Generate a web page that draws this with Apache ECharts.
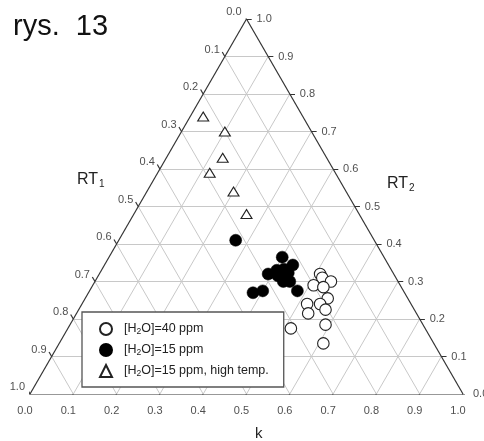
<!DOCTYPE html>
<html>
<head>
<meta charset="utf-8">
<script src="https://cdn.jsdelivr.net/npm/echarts@6/dist/echarts.min.js"></script>
<style>
  html, body { margin: 0; padding: 0; background: #fff; }
  #main { width: 484px; height: 441px; }
</style>
</head>
<body>
<div id="main"></div>
<script>
// ternary data: k (bottom axis) and RT2 (right axis); RT1 = 1 - k - RT2
var openK = [0.51, 0.52, 0.545, 0.51, 0.535, 0.56, 0.52, 0.55, 0.57, 0.535, 0.59, 0.515, 0.61];
var openRT2 = [0.32, 0.31, 0.30, 0.29, 0.285, 0.255, 0.24, 0.24, 0.225, 0.215, 0.185, 0.175, 0.135];

var filledK = [0.27, 0.40, 0.39, 0.405, 0.42, 0.435, 0.415, 0.435, 0.435, 0.45, 0.38, 0.40, 0.48];
var filledRT2 = [0.41, 0.365, 0.32, 0.33, 0.333, 0.344, 0.315, 0.323, 0.30, 0.30, 0.27, 0.275, 0.275];

var triK = [0.03, 0.10, 0.13, 0.12, 0.20, 0.26];
var triRT2 = [0.74, 0.70, 0.63, 0.59, 0.54, 0.48];

var gridSteps = [0.1, 0.2, 0.3, 0.4, 0.5, 0.6, 0.7, 0.8, 0.9];
var tickLabels = ['0.0', '0.1', '0.2', '0.3', '0.4', '0.5', '0.6', '0.7', '0.8', '0.9', '1.0'];

var seriesNames = ['[H2O]=40 ppm', '[H2O]=15 ppm', '[H2O]=15 ppm, high temp.'];

var S = Math.sqrt(3) / 2;
// ternary -> cartesian
function pt(k, rt2) { return [k + rt2 / 2, rt2 * S]; }

function toPoints(ks, rs) {
  return ks.map(function (k, i) { return pt(k, rs[i]); });
}

// grid lines
var gridLines = [];
gridSteps.forEach(function (t) {
  gridLines.push({ coords: [pt(0, t), pt(1 - t, t)] });   // RT2 const
  gridLines.push({ coords: [pt(t, 0), pt(t, 1 - t)] });   // k const
  gridLines.push({ coords: [pt(t, 0), pt(0, t)] });       // RT1 const
});

// frame + ticks
var L = 0.012;
var frame = [
  { coords: [pt(0, 0), pt(1, 0)] },
  { coords: [pt(1, 0), pt(0, 1)] },
  { coords: [pt(0, 1), pt(0, 0)] }
];
var bottomLab = [], leftLab = [], rightLab = [];
tickLabels.forEach(function (lab, i) {
  var v = i / 10;
  var b = pt(v, 0), l = pt(0, 1 - v), r = pt(1 - v, v);
  frame.push({ coords: [b, [b[0] - 0.5 * L, b[1] - S * L]] });
  frame.push({ coords: [l, [l[0] - 0.5 * L, l[1] + S * L]] });
  frame.push({ coords: [r, [r[0] + L, r[1]]] });
  bottomLab.push({ value: b, name: lab });
  leftLab.push({ value: l, name: lab });
  rightLab.push({ value: r, name: lab });
});

function labelSeries(data, pos, align) {
  return {
    type: 'scatter',
    data: data,
    symbolSize: 0,
    silent: true,
    z: 5,
    label: {
      show: true,
      position: pos,
      align: align,
      verticalAlign: 'middle',
      formatter: '{b}',
      fontFamily: 'Liberation Sans',
      fontSize: 11,
      color: '#222'
    }
  };
}

var markerBorder = '#222';

var myChart = echarts.init(document.getElementById('main'));
myChart.setOption({
  animation: false,
  backgroundColor: '#fff',
  grid: { left: 30, top: 19, width: 433, height: 375 },
  xAxis: { type: 'value', min: 0, max: 1, show: false },
  yAxis: { type: 'value', min: 0, max: S, show: false },
  legend: {
    orient: 'vertical',
    left: 82,
    top: 312,
    data: seriesNames,
    itemWidth: 12,
    itemHeight: 12,
    itemGap: 7,
    padding: [10, 15, 9, 17],
    backgroundColor: '#fff',
    borderColor: '#555',
    borderWidth: 1.3,
    borderRadius: 0,
    formatter: function (name) {
      return name.replace('H2O', 'H{sub|2}O');
    },
    textStyle: {
      fontFamily: 'Liberation Sans',
      fontSize: 12.5,
      color: '#222',
      padding: [0, 0, 0, 7],
      rich: {
        sub: { fontSize: 8.5, padding: [5, 0, 0, 0] }
      }
    }
  },
  graphic: [
    {
      type: 'text', left: 13, top: 12,
      style: { text: 'rys.  13', font: '29px "Liberation Sans"', fill: '#111' }
    },
    {
      type: 'text', left: 77, top: 172,
      style: {
        text: '{a|RT}{b|1}',
        rich: {
          a: { fontFamily: 'Liberation Sans', fontSize: 16, fill: '#222' },
          b: { fontFamily: 'Liberation Sans', fontSize: 10, fill: '#222', padding: [9, 0, 0, 1] }
        }
      }
    },
    {
      type: 'text', left: 387, top: 176,
      style: {
        text: '{a|RT}{b|2}',
        rich: {
          a: { fontFamily: 'Liberation Sans', fontSize: 16, fill: '#222' },
          b: { fontFamily: 'Liberation Sans', fontSize: 10, fill: '#222', padding: [9, 0, 0, 1] }
        }
      }
    },
    {
      type: 'text', left: 255, top: 426,
      style: { text: 'k', font: '15px "Liberation Sans"', fill: '#222' }
    }
  ],
  series: [
    {
      type: 'lines',
      coordinateSystem: 'cartesian2d',
      silent: true,
      z: 1,
      lineStyle: { color: '#c8c8c8', width: 1, opacity: 1 },
      data: gridLines
    },
    {
      type: 'lines',
      coordinateSystem: 'cartesian2d',
      silent: true,
      z: 2,
      lineStyle: { color: '#333', width: 1.2, opacity: 1 },
      data: frame
    },
    labelSeries(bottomLab, [-5, 17], 'center'),
    labelSeries(leftLab, [-5, -7], 'right'),
    labelSeries(rightLab, [10, 0], 'left'),
    {
      name: seriesNames[0],
      type: 'scatter',
      z: 3,
      symbol: 'circle',
      symbolSize: 11.5,
      itemStyle: { color: '#fff', borderColor: markerBorder, borderWidth: 1.1, opacity: 1 },
      data: toPoints(openK, openRT2)
    },
    {
      name: seriesNames[1],
      type: 'scatter',
      z: 3,
      symbol: 'circle',
      symbolSize: 12,
      itemStyle: { color: '#000', borderColor: '#000', borderWidth: 0.5, opacity: 1 },
      data: toPoints(filledK, filledRT2)
    },
    {
      name: seriesNames[2],
      type: 'scatter',
      z: 3,
      symbol: 'triangle',
      symbolSize: [11, 9],
      itemStyle: { color: '#fff', borderColor: markerBorder, borderWidth: 1.1, opacity: 1 },
      data: toPoints(triK, triRT2)
    }
  ]
});
</script>
</body>
</html>
